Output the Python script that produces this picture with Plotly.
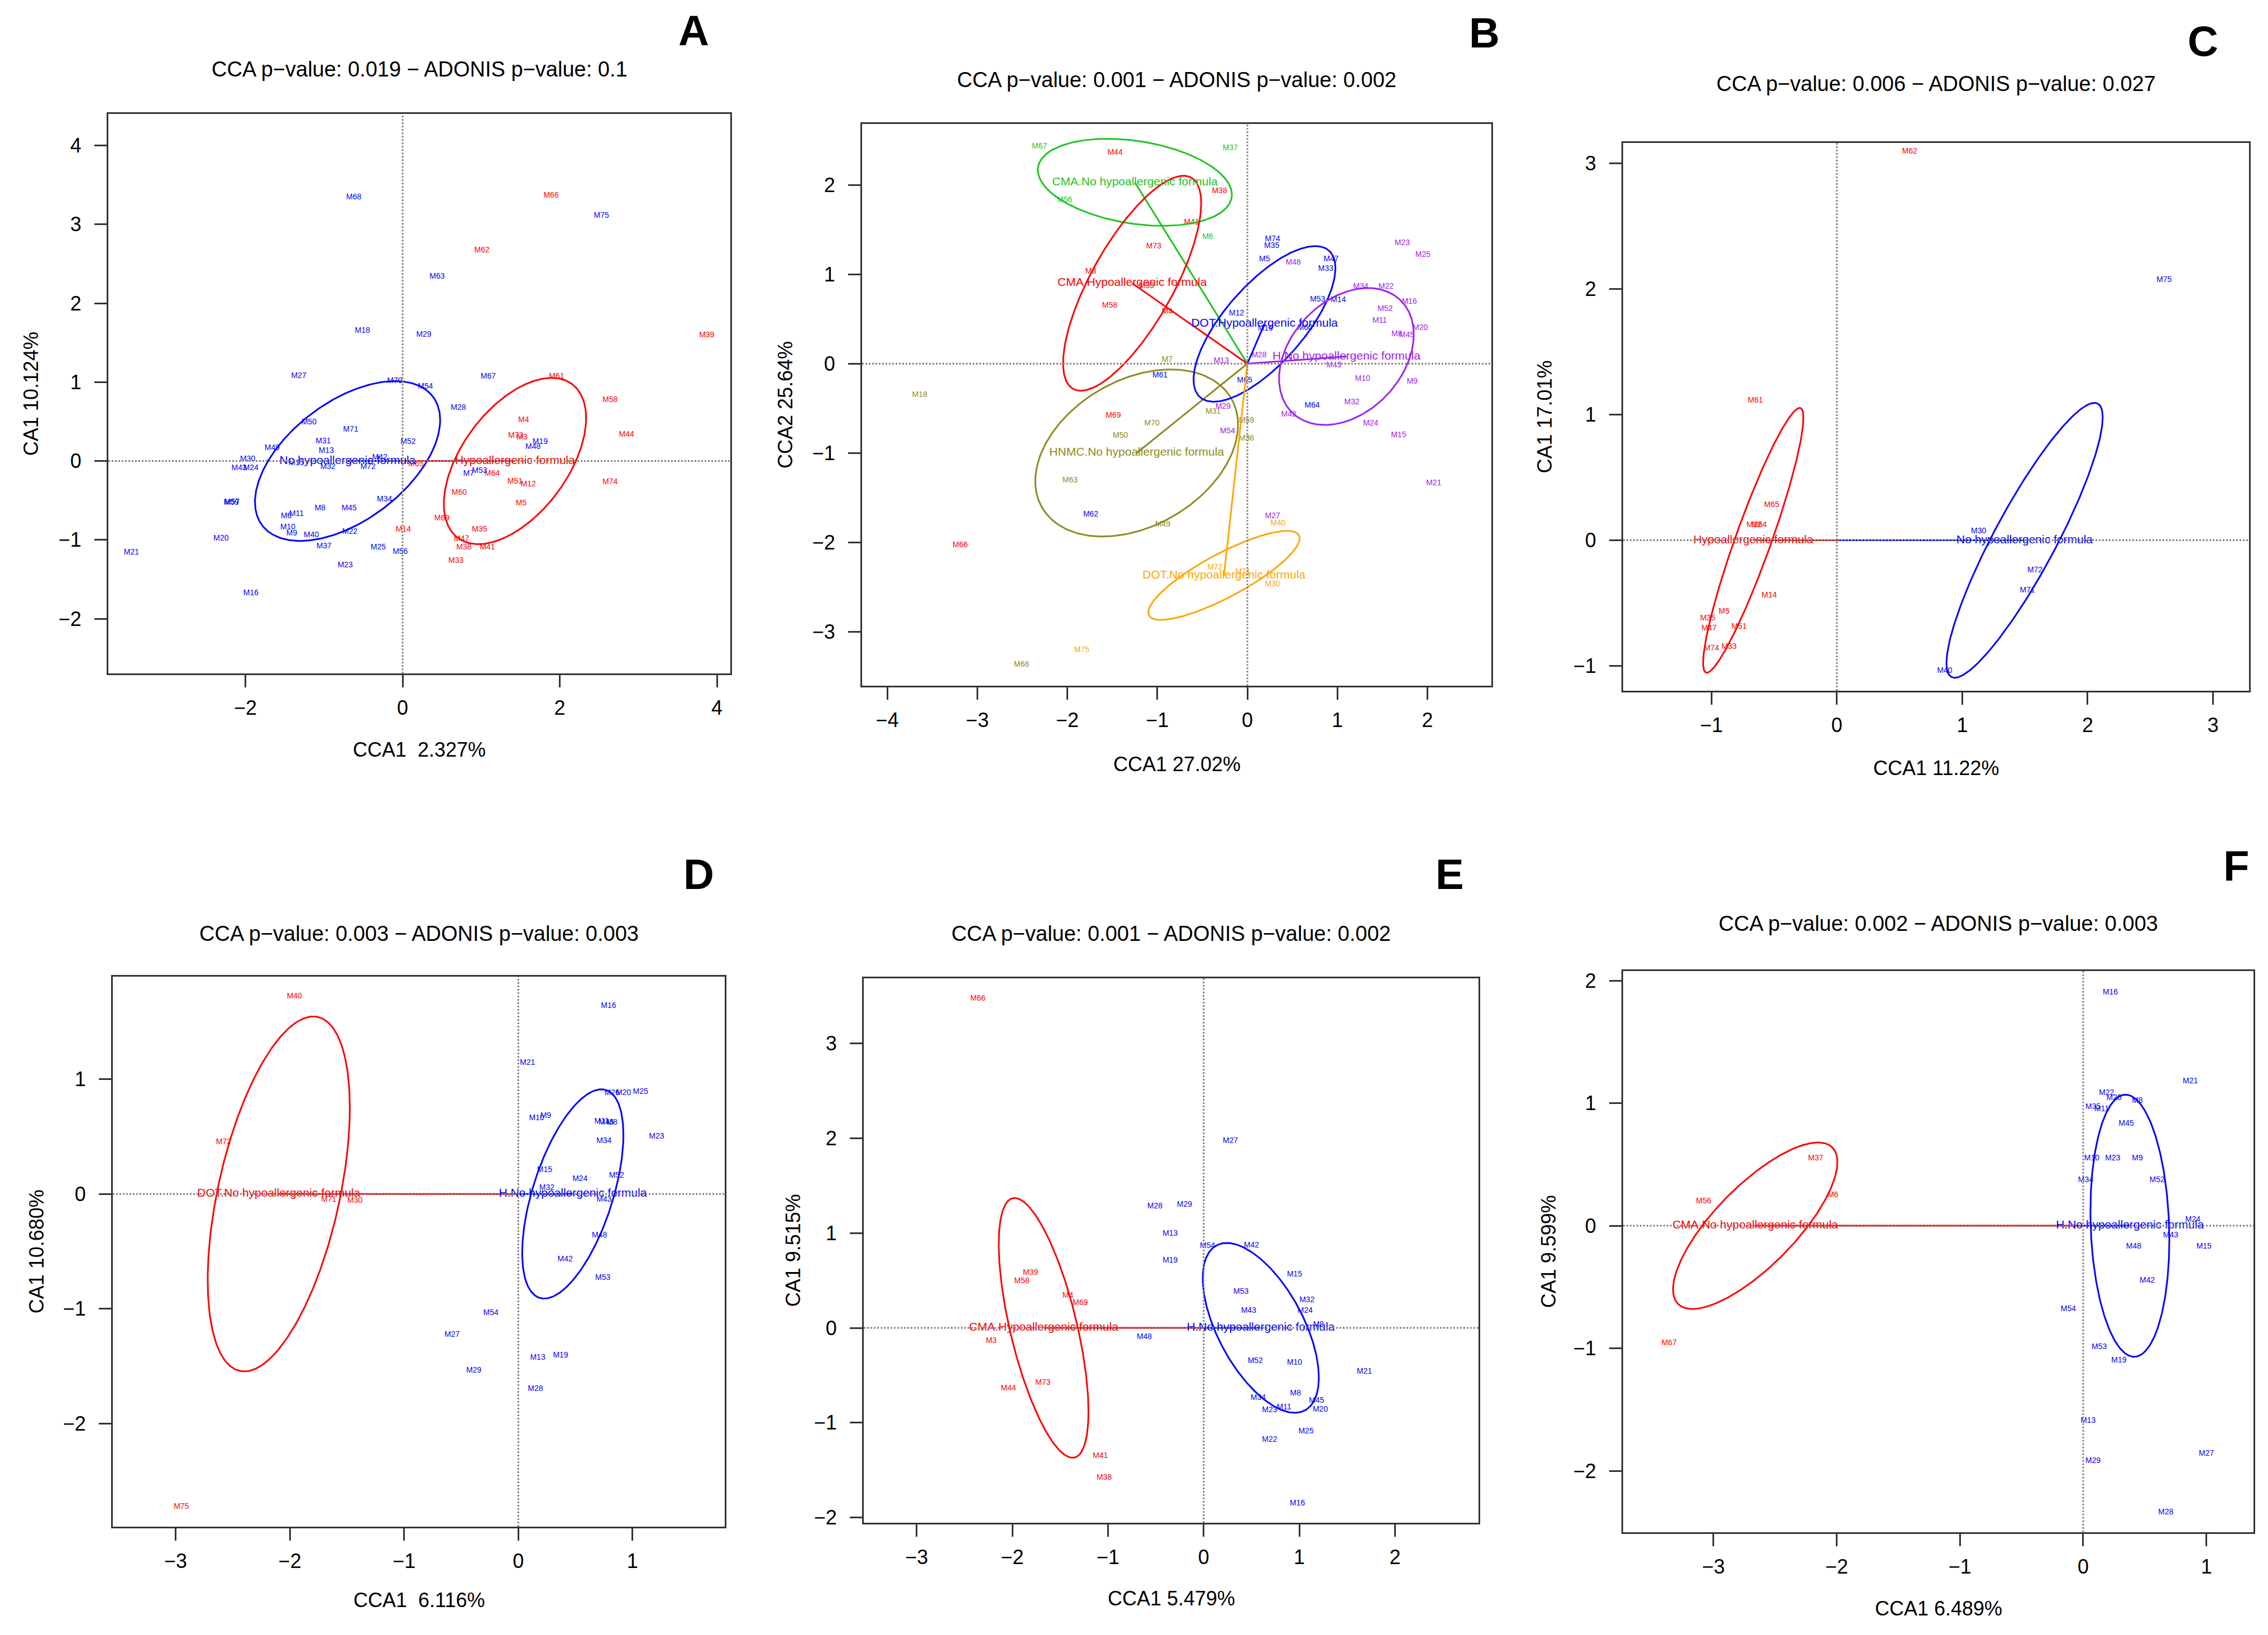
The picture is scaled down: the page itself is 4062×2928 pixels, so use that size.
import numpy as np
import plotly.graph_objects as go

W, H = 4062, 2928
FONT = "Liberation Sans, Arial, Helvetica, sans-serif"

RED = "#FF0000"
BLUE = "#0000FF"
GREEN = "#1FC41F"
OLIVE = "#8E8A1C"
PURPLE = "#A020F0"
ORANGE = "#FFA500"

# ---------------- panel A ----------------
A_title = "CCA p\u2212value: 0.019 \u2212 ADONIS p\u2212value: 0.1"
A_xlab = "CCA1  2.327%"
A_ylab = "CA1 10.124%"
A_no_lab = ["M68", "M75", "M63", "M18", "M29", "M27", "M70", "M54", "M67", "M28",
            "M50", "M71", "M31", "M13", "M52", "M49", "M30", "M43", "M24", "M15",
            "M32", "M42", "M72", "M7", "M53", "M19", "M48", "M59", "M57", "M6",
            "M11", "M8", "M45", "M34", "M10", "M9", "M40", "M22", "M20", "M21",
            "M37", "M25", "M56", "M23", "M16"]
A_no_x = [-0.62, 2.53, 0.44, -0.51, 0.27, -1.32, -0.10, 0.29, 1.09, 0.71,
          -1.19, -0.66, -1.01, -0.97, 0.07, -1.66, -1.97, -2.08, -1.93, -1.35,
          -0.95, -0.29, -0.44, 0.84, 0.98, 1.75, 1.66, -2.18, -2.17, -1.48,
          -1.35, -1.05, -0.68, -0.23, -1.46, -1.41, -1.16, -0.67, -2.31, -3.45,
          -1.00, -0.31, -0.03, -0.73, -1.93]
A_no_y = [3.34, 3.11, 2.34, 1.65, 1.60, 1.08, 1.01, 0.94, 1.07, 0.67,
          0.49, 0.40, 0.25, 0.13, 0.24, 0.16, 0.02, -0.09, -0.09, -0.03,
          -0.08, 0.04, -0.08, -0.16, -0.13, 0.24, 0.18, -0.53, -0.52, -0.70,
          -0.67, -0.60, -0.60, -0.49, -0.84, -0.92, -0.94, -0.90, -0.98, -1.16,
          -1.08, -1.10, -1.15, -1.32, -1.68]
A_hyp_lab = ["M66", "M62", "M39", "M61", "M58", "M4", "M73", "M3", "M44", "M64",
             "M51", "M12", "M74", "M60", "M5", "M69", "M14", "M35", "M47", "M38",
             "M41", "M33", "M65"]
A_hyp_x = [1.89, 1.01, 3.87, 1.96, 2.64, 1.54, 1.44, 1.52, 2.85, 1.14,
           1.43, 1.60, 2.64, 0.72, 1.51, 0.50, 0.01, 0.98, 0.75, 0.78,
           1.08, 0.68, 0.17]
A_hyp_y = [3.36, 2.67, 1.59, 1.07, 0.77, 0.52, 0.32, 0.30, 0.33, -0.16,
           -0.26, -0.30, -0.27, -0.40, -0.54, -0.73, -0.87, -0.87, -0.99, -1.10,
           -1.10, -1.27, -0.04]
# centroid (x, y) and sd-ellipse (sd x, sd y, covariance)
A_no_cent = (-0.70, 0.0)
A_no_ell = (1.178, 1.013, 0.612)
A_hyp_cent = (1.43, 0.0)
A_hyp_ell = (0.905, 1.054, 0.492)

# ---------------- panel B ----------------
B_title = "CCA p\u2212value: 0.001 \u2212 ADONIS p\u2212value: 0.002"
B_xlab = "CCA1 27.02%"
B_ylab = "CCA2 25.64%"
B_cmano_lab = ["M67", "M37", "M56", "M6"]
B_cmano_x = [-2.31, -0.19, -2.03, -0.44]
B_cmano_y = [2.43, 2.41, 1.83, 1.42]
B_cmano_cent = (-1.25, 2.03)
B_cmano_ell = (1.078, 0.487, -0.149)

B_cmahyp_lab = ["M44", "M38", "M41", "M73", "M3", "M39", "M58", "M4", "M69", "M66"]
B_cmahyp_x = [-1.47, -0.31, -0.62, -1.04, -1.74, -1.12, -1.53, -0.89, -1.49, -3.19]
B_cmahyp_y = [2.36, 1.93, 1.58, 1.31, 1.03, 0.87, 0.65, 0.58, -0.58, -2.03]
B_cmahyp_cent = (-1.28, 0.90)
B_cmahyp_ell = (0.767, 1.203, 0.686)

B_hnmc_lab = ["M18", "M7", "M70", "M50", "M31", "M59", "M36", "M63", "M49", "M68"]
B_hnmc_x = [-3.64, -0.89, -1.06, -1.41, -0.38, -0.01, -0.01, -1.97, -0.94, -2.51]
B_hnmc_y = [-0.35, 0.04, -0.67, -0.81, -0.54, -0.64, -0.84, -1.31, -1.80, -3.37]
B_hnmc_cent = (-1.23, -1.00)
B_hnmc_ell = (1.126, 0.935, 0.355)

B_dothyp_lab = ["M74", "M35", "M5", "M47", "M33", "M53", "M14", "M12", "M19", "M60",
                "M61", "M65", "M64", "M62"]
B_dothyp_x = [0.28, 0.27, 0.19, 0.93, 0.87, 0.78, 1.01, -0.12, 0.20, 0.64,
              -0.97, -0.03, 0.72, -1.74]
B_dothyp_y = [1.39, 1.32, 1.17, 1.17, 1.06, 0.72, 0.71, 0.56, 0.39, 0.40,
              -0.13, -0.19, -0.47, -1.69]
B_dothyp_cent = (0.19, 0.445)
B_dothyp_ell = (0.788, 0.871, 0.491)

B_hno_lab = ["M23", "M25", "M48", "M34", "M22", "M16", "M52", "M11", "M8", "M45",
             "M20", "M28", "M13", "M43", "M10", "M9", "M32", "M42", "M24", "M29",
             "M54", "M15", "M21", "M27"]
B_hno_x = [1.72, 1.95, 0.51, 1.26, 1.54, 1.80, 1.53, 1.47, 1.66, 1.77,
           1.92, 0.13, -0.29, 0.96, 1.28, 1.83, 1.16, 0.46, 1.37, -0.27,
           -0.22, 1.68, 2.07, 0.28]
B_hno_y = [1.35, 1.22, 1.13, 0.86, 0.86, 0.69, 0.61, 0.48, 0.33, 0.32,
           0.40, 0.09, 0.03, -0.02, -0.17, -0.20, -0.43, -0.57, -0.67, -0.48,
           -0.76, -0.80, -1.34, -1.71]
B_hno_cent = (1.10, 0.08)
B_hno_ell = (0.748, 0.766, 0.184)

B_dotno_lab = ["M40", "M72", "M71", "M30", "M75"]
B_dotno_x = [0.34, -0.36, -0.05, 0.28, -1.84]
B_dotno_y = [-1.79, -2.28, -2.33, -2.47, -3.21]
B_dotno_cent = (-0.26, -2.37)
B_dotno_ell = (0.841, 0.498, 0.349)

# ---------------- panel C ----------------
C_title = "CCA p\u2212value: 0.006 \u2212 ADONIS p\u2212value: 0.027"
C_xlab = "CCA1 11.22%"
C_ylab = "CA1 17.01%"
C_hyp_lab = ["M62", "M61", "M65", "M12", "M64", "M14", "M5", "M35", "M47", "M51", "M74", "M33"]
C_hyp_x = [0.58, -0.65, -0.52, -0.66, -0.62, -0.54, -0.90, -1.03, -1.02, -0.78, -1.00, -0.86]
C_hyp_y = [3.09, 1.11, 0.28, 0.12, 0.12, -0.44, -0.57, -0.62, -0.70, -0.69, -0.86, -0.85]
C_hyp_cent = (-0.667, 0.0)
C_hyp_ell = (0.40, 1.053, 0.39)
C_no_lab = ["M75", "M30", "M72", "M71", "M40"]
C_no_x = [2.61, 1.13, 1.58, 1.52, 0.86]
C_no_y = [2.07, 0.07, -0.24, -0.40, -1.04]
C_no_cent = (1.497, 0.0)
C_no_ell = (0.623, 1.093, 0.609)

# ---------------- panel D ----------------
D_title = "CCA p\u2212value: 0.003 \u2212 ADONIS p\u2212value: 0.003"
D_xlab = "CCA1  6.116%"
D_ylab = "CA1 10.680%"
D_dot_lab = ["M40", "M72", "M71", "M30", "M75"]
D_dot_x = [-1.96, -2.58, -1.66, -1.43, -2.95]
D_dot_y = [1.72, 0.45, -0.05, -0.06, -2.73]
D_dot_cent = (-2.097, 0.0)
D_dot_ell = (0.622, 1.547, 0.467)
D_h_lab = ["M16", "M21", "M26", "M20", "M25", "M10", "M9", "M11", "M45", "M8",
           "M23", "M34", "M15", "M24", "M52", "M32", "M43", "M48", "M42", "M53",
           "M54", "M27", "M13", "M19", "M29", "M28"]
D_h_x = [0.79, 0.08, 0.82, 0.92, 1.07, 0.16, 0.24, 0.73, 0.77, 0.82,
         1.21, 0.75, 0.23, 0.54, 0.86, 0.25, 0.75, 0.71, 0.41, 0.74,
         -0.24, -0.58, 0.17, 0.37, -0.39, 0.15]
D_h_y = [1.64, 1.14, 0.88, 0.88, 0.89, 0.66, 0.68, 0.63, 0.62, 0.62,
         0.50, 0.46, 0.21, 0.13, 0.16, 0.05, -0.05, -0.36, -0.57, -0.73,
         -1.04, -1.23, -1.43, -1.41, -1.54, -1.70]
D_h_cent = (0.477, 0.0)
D_h_ell = (0.443, 0.912, 0.228)

# ---------------- panel E ----------------
E_title = "CCA p\u2212value: 0.001 \u2212 ADONIS p\u2212value: 0.002"
E_xlab = "CCA1 5.479%"
E_ylab = "CA1 9.515%"
E_cma_lab = ["M66", "M39", "M58", "M4", "M69", "M3", "M73", "M44", "M41", "M38"]
E_cma_x = [-2.36, -1.81, -1.90, -1.42, -1.29, -2.22, -1.68, -2.04, -1.08, -1.04]
E_cma_y = [3.47, 0.58, 0.49, 0.34, 0.26, -0.14, -0.58, -0.64, -1.35, -1.58]
E_cma_cent = (-1.673, 0.0)
E_cma_ell = (0.469, 1.369, -0.414)
E_h_lab = ["M27", "M28", "M29", "M13", "M54", "M42", "M19", "M15", "M53", "M32",
           "M43", "M24", "M9", "M48", "M52", "M10", "M21", "M8", "M45", "M34",
           "M11", "M23", "M20", "M25", "M22", "M16"]
E_h_x = [0.28, -0.51, -0.20, -0.35, 0.04, 0.50, -0.35, 0.95, 0.39, 1.08,
         0.47, 1.06, 1.20, -0.62, 0.54, 0.95, 1.68, 0.96, 1.18, 0.57,
         0.84, 0.69, 1.22, 1.07, 0.69, 0.98]
E_h_y = [1.97, 1.28, 1.30, 0.99, 0.86, 0.87, 0.71, 0.56, 0.38, 0.29,
         0.18, 0.18, 0.03, -0.10, -0.35, -0.37, -0.46, -0.69, -0.77, -0.74,
         -0.84, -0.87, -0.86, -1.09, -1.18, -1.85]
E_h_cent = (0.597, 0.0)
E_h_ell = (0.607, 0.895, -0.318)

# ---------------- panel F ----------------
F_title = "CCA p\u2212value: 0.002 \u2212 ADONIS p\u2212value: 0.003"
F_xlab = "CCA1 6.489%"
F_ylab = "CA1 9.599%"
F_cma_lab = ["M37", "M6", "M56", "M67"]
F_cma_x = [-2.17, -2.03, -3.08, -3.36]
F_cma_y = [0.55, 0.25, 0.20, -0.96]
F_cma_cent = (-2.661, 0.0)
F_cma_ell = (0.667, 0.679, 0.346)
F_h_lab = ["M16", "M21", "M22", "M20", "M8", "M35", "M11", "M45", "M10", "M23",
           "M9", "M34", "M52", "M24", "M43", "M48", "M15", "M42", "M54", "M53",
           "M19", "M13", "M29", "M27", "M28"]
F_h_x = [0.22, 0.87, 0.19, 0.25, 0.44, 0.08, 0.15, 0.35, 0.07, 0.24,
         0.44, 0.02, 0.60, 0.89, 0.71, 0.41, 0.98, 0.52, -0.12, 0.13,
         0.29, 0.04, 0.08, 1.00, 0.67]
F_h_y = [1.90, 1.18, 1.08, 1.04, 1.02, 0.97, 0.95, 0.83, 0.55, 0.55,
         0.55, 0.37, 0.37, 0.05, -0.08, -0.17, -0.17, -0.45, -0.68, -0.99,
         -1.10, -1.59, -1.92, -1.86, -2.34]
F_h_cent = (0.379, 0.0)
F_h_ell = (0.32, 1.069, -0.037)


def ellipse_xy(cent, ell):
    # sd ellipse from (sd x, sd y, covariance) around the centroid
    hx, hy, sxy = ell
    t = np.linspace(0, 2 * np.pi, 240)
    k = sxy / hx
    x = cent[0] + hx * np.cos(t)
    y = cent[1] + k * np.cos(t) + np.sqrt(hy ** 2 - k ** 2) * np.sin(t)
    return x, y


# group name, colour, labels, x, y, centroid, ellipse
panels = [
    dict(letter="A", title=A_title, xlab=A_xlab, ylab=A_ylab,
         box=(186, 1300, 194, 1201), xr=[-3.744, 4.17], yr=[-2.695, 4.40],
         xt=[-2, 0, 2, 4], yt=[-2, -1, 0, 1, 2, 3, 4],
         groups=[("No hypoallergenic formula", BLUE, A_no_lab, A_no_x, A_no_y, A_no_cent, A_no_ell),
                 ("Hypoallergenic formula", RED, A_hyp_lab, A_hyp_x, A_hyp_y, A_hyp_cent, A_hyp_ell)],
         lpos=(1234, 44), tpos=114, xlpos=1338, ylpos=47),
    dict(letter="B", title=B_title, xlab=B_xlab, ylab=B_ylab,
         box=(1536, 2663, 212, 1223), xr=[-4.28, 2.71], yr=[-3.606, 2.683],
         xt=[-4, -3, -2, -1, 0, 1, 2], yt=[-3, -2, -1, 0, 1, 2],
         groups=[("CMA.No hypoallergenic formula", GREEN, B_cmano_lab, B_cmano_x, B_cmano_y, B_cmano_cent, B_cmano_ell),
                 ("CMA.Hypoallergenic formula", RED, B_cmahyp_lab, B_cmahyp_x, B_cmahyp_y, B_cmahyp_cent, B_cmahyp_ell),
                 ("HNMC.No hypoallergenic formula", OLIVE, B_hnmc_lab, B_hnmc_x, B_hnmc_y, B_hnmc_cent, B_hnmc_ell),
                 ("DOT.Hypoallergenic formula", BLUE, B_dothyp_lab, B_dothyp_x, B_dothyp_y, B_dothyp_cent, B_dothyp_ell),
                 ("H.No hypoallergenic formula", PURPLE, B_hno_lab, B_hno_x, B_hno_y, B_hno_cent, B_hno_ell),
                 ("DOT.No hypoallergenic formula", ORANGE, B_dotno_lab, B_dotno_x, B_dotno_y, B_dotno_cent, B_dotno_ell)],
         lpos=(2650, 48), tpos=133, xlpos=1364, ylpos=1398),
    dict(letter="C", title=C_title, xlab=C_xlab, ylab=C_ylab,
         box=(2899, 4020, 246, 1232), xr=[-1.705, 3.287], yr=[-1.197, 3.161],
         xt=[-1, 0, 1, 2, 3], yt=[-1, 0, 1, 2, 3],
         groups=[("Hypoallergenic formula", RED, C_hyp_lab, C_hyp_x, C_hyp_y, C_hyp_cent, C_hyp_ell),
                 ("No hypoallergenic formula", BLUE, C_no_lab, C_no_x, C_no_y, C_no_cent, C_no_ell)],
         lpos=(3937, 63), tpos=140, xlpos=1371, ylpos=2758),
    dict(letter="D", title=D_title, xlab=D_xlab, ylab=D_ylab,
         box=(194, 1290, 1746, 2736), xr=[-3.55, 1.807], yr=[-2.90, 1.896],
         xt=[-3, -2, -1, 0, 1], yt=[-2, -1, 0, 1],
         groups=[("DOT.No hypoallergenic formula", RED, D_dot_lab, D_dot_x, D_dot_y, D_dot_cent, D_dot_ell),
                 ("H.No hypoallergenic formula", BLUE, D_h_lab, D_h_x, D_h_y, D_h_cent, D_h_ell)],
         lpos=(1243, 1562), tpos=1669, xlpos=2868, ylpos=57),
    dict(letter="E", title=E_title, xlab=E_xlab, ylab=E_ylab,
         box=(1539, 2640, 1749, 2729), xr=[-3.553, 2.873], yr=[-2.054, 3.687],
         xt=[-3, -2, -1, 0, 1, 2], yt=[-2, -1, 0, 1, 2, 3],
         groups=[("CMA.Hypoallergenic formula", RED, E_cma_lab, E_cma_x, E_cma_y, E_cma_cent, E_cma_ell),
                 ("H.No hypoallergenic formula", BLUE, E_h_lab, E_h_x, E_h_y, E_h_cent, E_h_ell)],
         lpos=(2588, 1562), tpos=1669, xlpos=2865, ylpos=1412),
    dict(letter="F", title=F_title, xlab=F_xlab, ylab=F_ylab,
         box=(2899, 4028, 1736, 2746), xr=[-3.733, 1.382], yr=[-2.50, 2.079],
         xt=[-3, -2, -1, 0, 1], yt=[-2, -1, 0, 1, 2],
         groups=[("CMA.No hypoallergenic formula", RED, F_cma_lab, F_cma_x, F_cma_y, F_cma_cent, F_cma_ell),
                 ("H.No hypoallergenic formula", BLUE, F_h_lab, F_h_x, F_h_y, F_h_cent, F_h_ell)],
         lpos=(3997, 1547), tpos=1651, xlpos=2883, ylpos=2765),
]

fig = go.Figure()
annotations = []
shapes = []
layout_axes = {}


def paper_note(text, xpx, ypx, size, angle=0):
    return dict(text=text, x=xpx / W, y=1 - ypx / H, xref="paper", yref="paper",
                xanchor="center", yanchor="middle", showarrow=False, textangle=angle,
                font=dict(family=FONT, size=size, color="black"))


for i, p in enumerate(panels, start=1):
    sfx = "" if i == 1 else str(i)
    xa, ya = "x" + sfx, "y" + sfx
    left, right, top, bottom = p["box"]

    axis_common = dict(showgrid=False, zeroline=False, showline=True, mirror=True,
                       linecolor="#333333", linewidth=3, ticks="outside", ticklen=22,
                       tickwidth=3, tickcolor="#333333",
                       tickfont=dict(family=FONT, size=36, color="black"))
    layout_axes["xaxis" + sfx] = dict(axis_common, domain=[left / W, right / W], anchor=ya,
                                      range=p["xr"], tickvals=p["xt"], ticklabelstandoff=6)
    layout_axes["yaxis" + sfx] = dict(axis_common, domain=[1 - bottom / H, 1 - top / H], anchor=xa,
                                      range=p["yr"], tickvals=p["yt"], ticklabelstandoff=16)

    # dotted reference lines through the origin
    shapes.append(dict(type="line", xref=xa, yref=ya + " domain", x0=0, x1=0, y0=0, y1=1,
                       line=dict(color="#808080", width=3, dash="dot")))
    shapes.append(dict(type="line", xref=xa + " domain", yref=ya, x0=0, x1=1, y0=0, y1=0,
                       line=dict(color="#808080", width=3, dash="dot")))

    # sample labels
    for name, col, lab, gx, gy, cent, ell in p["groups"]:
        fig.add_trace(go.Scatter(x=gx, y=gy, mode="text", text=lab, xaxis=xa, yaxis=ya,
                                 textfont=dict(family=FONT, size=14, color=col),
                                 hoverinfo="skip", showlegend=False))
    # ellipses and spiders to centroids
    for name, col, lab, gx, gy, cent, ell in p["groups"]:
        ex, ey = ellipse_xy(cent, ell)
        fig.add_trace(go.Scatter(x=ex, y=ey, mode="lines", xaxis=xa, yaxis=ya,
                                 line=dict(color=col, width=3), hoverinfo="skip", showlegend=False))
        fig.add_trace(go.Scatter(x=[0, cent[0]], y=[0, cent[1]], mode="lines", xaxis=xa, yaxis=ya,
                                 line=dict(color=col, width=3), hoverinfo="skip", showlegend=False))
    for name, col, lab, gx, gy, cent, ell in p["groups"]:
        fig.add_trace(go.Scatter(x=[cent[0]], y=[cent[1]], mode="text", text=[name], xaxis=xa, yaxis=ya,
                                 textfont=dict(family=FONT, size=21, color=col),
                                 hoverinfo="skip", showlegend=False))

    cx = (left + right) / 2
    cy = (top + bottom) / 2
    annotations.append(paper_note(p["title"], cx, p["tpos"], 38))
    annotations.append(paper_note(p["xlab"], cx, p["xlpos"], 36))
    annotations.append(paper_note(p["ylab"], p["ylpos"], cy, 36, angle=-90))
    annotations.append(paper_note("<b>" + p["letter"] + "</b>", p["lpos"][0], p["lpos"][1], 76))

fig.update_layout(width=W, height=H, margin=dict(l=0, r=0, t=0, b=0),
                  paper_bgcolor="white", plot_bgcolor="white", showlegend=False,
                  annotations=annotations, shapes=shapes, **layout_axes)

fig.write_html("out.html")
